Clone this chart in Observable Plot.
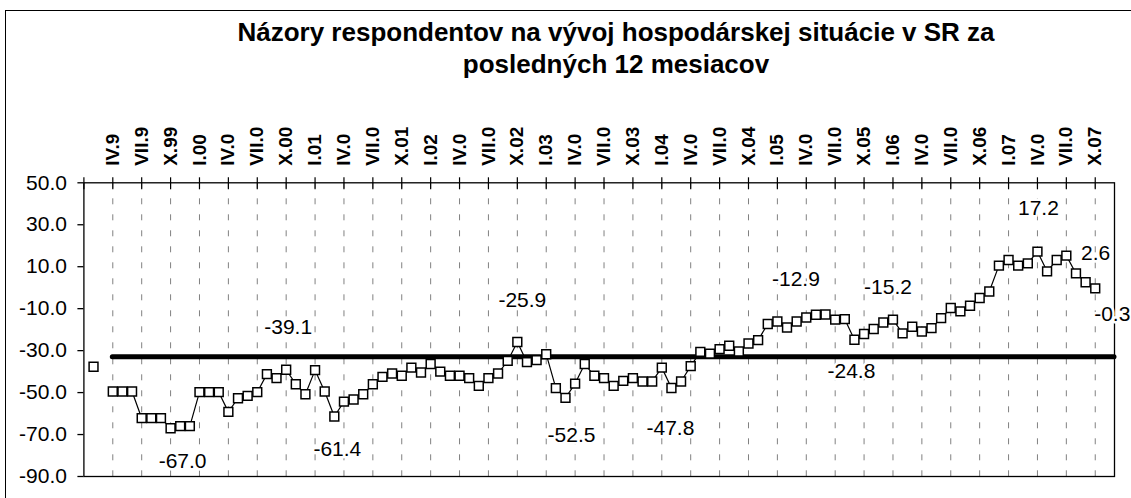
<!DOCTYPE html>
<html><head><meta charset="utf-8">
<script src="https://cdn.jsdelivr.net/npm/d3@7"></script>
<script src="https://cdn.jsdelivr.net/npm/@observablehq/plot@0.6"></script>
<style>
html,body{margin:0;padding:0;background:#fff;overflow:hidden}
#wrap{position:relative;width:1131px;height:498px;overflow:hidden;font-family:"Liberation Sans",Arial,sans-serif;background:#fff}
#border{position:absolute;left:5px;top:10px;width:1140px;height:520px;border-left:1.5px solid #000;border-top:1.5px solid #000;pointer-events:none}
#title{height:90px;box-sizing:border-box;padding-top:16px;padding-left:101px;font-size:26px;font-weight:bold;line-height:32px;text-align:center;color:#000}
#chart svg{display:block}
</style></head><body>
<div id="wrap"><div id="border"></div><div id="title">Názory respondentov na vývoj hospodárskej situácie v SR za<br>posledných 12 mesiacov</div><div id="chart"></div></div>
<script>
// Monthly series, first value = II.99 (month index 1; index 0 = I.99), last = X.07
const firstMonthIndex = 1;
const values = [
  -37.7, null, -49.5, -49.5, -49.5, -62.2, -62.2, -62.2, -67.0, -66.0, -66.0,
  -49.8, -49.8, -49.8, -59.2, -52.7, -51.6, -49.8, -41.2, -43.1, -39.1, -46.0,
  -50.8, -39.3, -49.5, -61.4, -54.3, -53.3, -50.8, -46.0, -42.5, -40.9, -42.0,
  -38.1, -40.4, -36.4, -40.0, -42.0, -42.0, -43.1, -46.8, -43.1, -40.9, -34.9,
  -25.9, -35.5, -34.5, -31.7, -47.9, -52.5, -45.7, -36.4, -42.0, -43.1, -46.8,
  -44.4, -43.1, -44.7, -44.7, -38.1, -47.8, -44.7, -37.4, -30.6, -31.4, -29.3,
  -27.7, -30.4, -26.6, -25.0, -17.3, -16.1, -19.0, -16.1, -14.2, -12.9, -12.8,
  -15.2, -15.0, -24.8, -22.1, -19.7, -16.6, -15.2, -21.8, -18.6, -20.9, -19.3,
  -14.5, -9.7, -11.3, -8.6, -4.9, -1.8, 10.5, 13.2, 10.5, 11.6, 17.2,
  7.8, 13.2, 15.3, 6.8, 2.6, -0.3
];
const xTickLabels = [
  "IV.9", "VII.9", "X.99", "I.00", "IV.0", "VII.0", "X.00", "I.01", "IV.0", "VII.0",
  "X.01", "I.02", "IV.0", "VII.0", "X.02", "I.03", "IV.0", "VII.0", "X.03", "I.04",
  "IV.0", "VII.0", "X.04", "I.05", "IV.0", "VII.0", "X.05", "I.06", "IV.0", "VII.0",
  "X.06", "I.07", "IV.0", "VII.0", "X.07"
];
const yTicks = [50, 30, 10, -10, -30, -50, -70, -90];
const averageValue = -32.9;
const averageFrom = 3, averageTo = 107;
const labelledMonths = [9, 21, 26, 45, 50, 61, 76, 80, 84, 99, 104, 105];

// styles: label offsets in px
const labelOffsets = [[12,33],[2,-42],[3,33],[5,-42],[6,37],[-1,40],[-20,-35],[-3,32],[-5,-32],[1,-43],[10,-29],[17,26]];

const data = values.map((v, k) => ({m: k + firstMonthIndex, v}));
const labelTicks = xTickLabels.map((_, j) => 3 + 3 * j);
const allTicks = [0, ...labelTicks];

const labelMarks = labelledMonths.map((m, j) =>
  Plot.text(data.filter(d => d.m === m), {
    x: "m", y: "v", text: d => d.v.toFixed(1),
    dx: labelOffsets[j][0], dy: labelOffsets[j][1],
    fontSize: 21, fill: "black", stroke: "white", strokeWidth: 5, paintOrder: "stroke"
  })
);

const chart = Plot.plot({
  width: 1131, height: 408,
  marginTop: 92.3, marginBottom: 22, marginLeft: 83.4, marginRight: 17,
  x: {domain: [0, 107]},
  y: {domain: [-90, 50]},
  style: {fontFamily: "'Liberation Sans', Arial, sans-serif", background: "white", color: "black", overflow: "visible"},
  marks: [
    Plot.gridX(labelTicks, {stroke: "#808080", strokeOpacity: 1, strokeDasharray: "6,10", strokeWidth: 1}),
    Plot.frame({stroke: "black", strokeWidth: 1.3}),
    Plot.axisY(yTicks, {tickSize: 6, tickPadding: 11, fontSize: 21, tickFormat: d => d.toFixed(1), label: null, strokeWidth: 1.3}),
    Plot.axisX(allTicks, {anchor: "top", tickSize: 12, dy: 6, tickFormat: () => "", label: null, strokeWidth: 1.2}),
    Plot.axisX(labelTicks, {anchor: "top", tickSize: 0, tickPadding: 17, tickRotate: -90, fontSize: 19, fontWeight: "bold", tickFormat: d => xTickLabels[(d - 3) / 3], label: null}),
    Plot.ruleY([averageValue], {x1: averageFrom, x2: averageTo, stroke: "black", strokeWidth: 5, strokeLinecap: "round"}),
    Plot.line(data, {x: "m", y: "v", stroke: "black", strokeWidth: 1.2}),
    Plot.dot(data, {x: "m", y: "v", symbol: "square", r: 5, fill: "white", stroke: "black", strokeWidth: 1.5}),
    ...labelMarks
  ]
});
document.getElementById("chart").appendChild(chart);
</script>
</body></html>
